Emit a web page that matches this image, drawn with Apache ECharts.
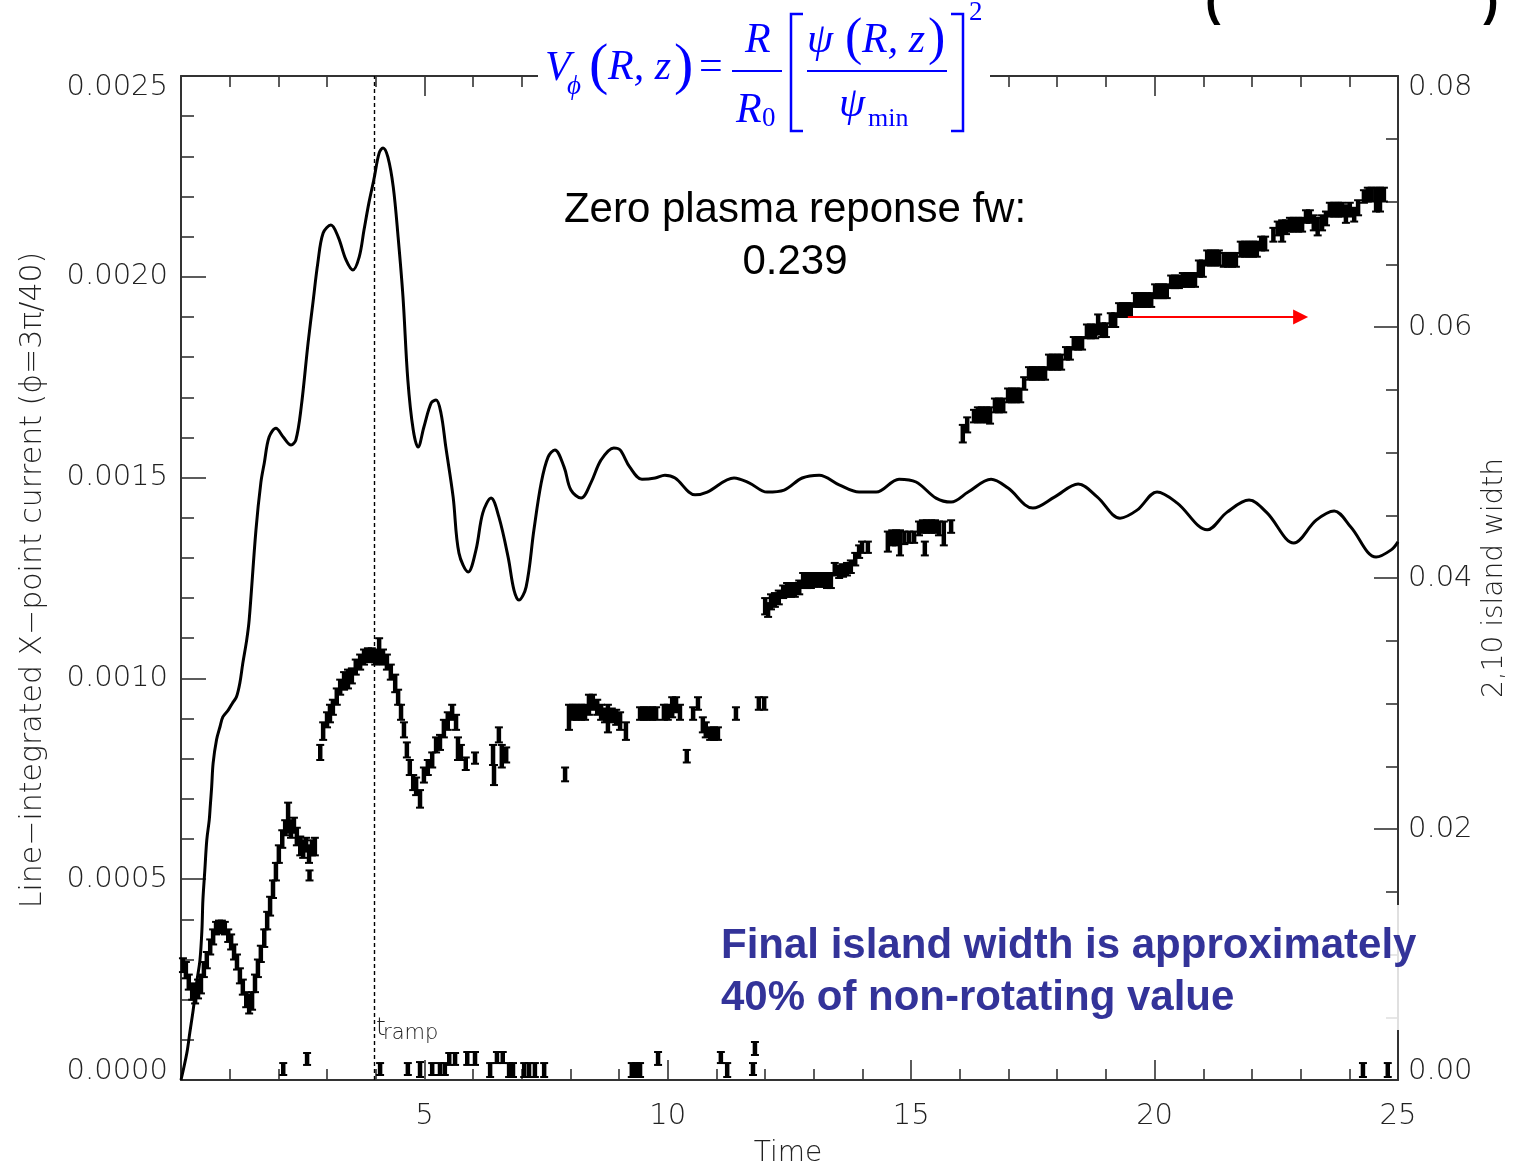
<!DOCTYPE html>
<html>
<head>
<meta charset="utf-8">
<script src="https://cdn.jsdelivr.net/npm/echarts@6/dist/echarts.min.js"></script>
<style>
  html, body { margin: 0; padding: 0; background: #fff; }
  #chart { width: 1518px; height: 1168px; }
</style>
</head>
<body>
<div id="chart"></div>
<script>
// Line-integrated X-point current versus time (left axis)
const currentT = [0.00,0.12,0.18,0.25,0.33,0.39,0.43,0.45,0.49,0.53,0.58,0.60,0.63,0.66,0.73,0.80,0.86,0.97,1.07,1.14,1.21,1.27,1.35,1.40,1.54,1.64,1.71,1.81,1.95,2.10,2.26,2.36,2.47,2.61,2.71,2.81,2.92,3.08,3.23,3.39,3.53,3.66,3.76,3.86,3.96,4.07,4.15,4.25,4.36,4.46,4.56,4.66,4.77,4.87,4.99,5.14,5.24,5.34,5.44,5.59,5.71,5.90,6.06,6.20,6.37,6.53,6.72,6.84,6.94,7.09,7.25,7.40,7.54,7.68,7.87,8.01,8.22,8.42,8.63,8.89,9.02,9.22,9.47,9.74,9.94,10.15,10.56,10.81,11.36,11.67,12.04,12.39,12.76,13.11,13.52,13.93,14.28,14.75,15.10,15.51,15.82,16.17,16.64,16.99,17.50,17.95,18.43,18.82,19.29,19.64,20.05,20.46,21.08,21.49,21.94,22.31,22.86,23.32,23.69,24.03,24.55,24.86,25.00];
const currentV = [0,0.000067,0.000117,0.000174,0.000249,0.000299,0.000374,0.000448,0.000523,0.000598,0.000647,0.000680,0.000730,0.000789,0.000847,0.000879,0.000904,0.000921,0.000941,0.000954,0.000989,0.001038,0.001096,0.001145,0.001370,0.001487,0.001536,0.001601,0.001623,0.001601,0.001581,0.001594,0.001676,0.001835,0.001935,0.002034,0.002109,0.002129,0.002099,0.002042,0.002017,0.002049,0.002117,0.002184,0.002241,0.002308,0.002321,0.002298,0.002224,0.002099,0.001950,0.001743,0.001619,0.001576,0.001626,0.001686,0.001693,0.001661,0.001576,0.001452,0.001312,0.001265,0.001320,0.001412,0.001449,0.001402,0.001302,0.001220,0.001195,0.001228,0.001370,0.001487,0.001551,0.001569,0.001526,0.001469,0.001449,0.001487,0.001544,0.001574,0.001569,0.001526,0.001496,0.001499,0.001506,0.001499,0.001457,0.001464,0.001499,0.001487,0.001464,0.001469,0.001499,0.001506,0.001482,0.001464,0.001464,0.001496,0.001489,0.001449,0.001439,0.001464,0.001496,0.001474,0.001424,0.001452,0.001484,0.001452,0.001399,0.001419,0.001464,0.001437,0.001370,0.001414,0.001444,0.001412,0.001337,0.001394,0.001417,0.001377,0.001302,0.001320,0.001340];

// 2,10 island width samples as [time, lower, upper] (right axis)
const widthEarly = [[0.04,0.0086,0.0097],[0.10,0.0081,0.0094],[0.16,0.0072,0.0084],[0.23,0.0064,0.0077],[0.29,0.0061,0.0076],[0.35,0.0065,0.0080],[0.41,0.0069,0.0084],[0.47,0.0082,0.0094],[0.53,0.0089,0.0102],[0.60,0.0100,0.0112],[0.66,0.0108,0.0120],[0.72,0.0116,0.0126],[0.78,0.0118,0.0127],[0.84,0.0117,0.0127],[0.90,0.0116,0.0126],[0.97,0.0110,0.0120],[1.03,0.0104,0.0116],[1.09,0.0096,0.0108],[1.15,0.0088,0.0100],[1.21,0.0077,0.0089],[1.27,0.0068,0.0080],[1.34,0.0058,0.0070],[1.40,0.0053,0.0068],[1.46,0.0056,0.0070],[1.52,0.0070,0.0084],[1.58,0.0082,0.0096],[1.64,0.0094,0.0107],[1.71,0.0106,0.0120],[1.77,0.0120,0.0134],[1.83,0.0131,0.0146],[1.89,0.0145,0.0159],[1.95,0.0159,0.0173],[2.01,0.0173,0.0187],[2.08,0.0185,0.0199],[2.14,0.0195,0.0207],[2.20,0.0197,0.0221],[2.26,0.0193,0.0207],[2.32,0.0197,0.0209],[2.38,0.0187,0.0201],[2.45,0.0179,0.0194],[2.51,0.0177,0.0191],[2.57,0.0182,0.0193],[2.63,0.0173,0.0187],[2.64,0.0159,0.0167],[2.69,0.0179,0.0191],[2.75,0.0179,0.0193]];
const widthRamp = [[2.86,0.0255,0.0267],[2.92,0.0271,0.0285],[3.00,0.0281,0.0293],[3.06,0.0285,0.0299],[3.12,0.0291,0.0303],[3.20,0.0299,0.0312],[3.27,0.0307,0.0319],[3.35,0.0311,0.0325],[3.43,0.0312,0.0327],[3.51,0.0316,0.0328],[3.59,0.0323,0.0335],[3.68,0.0327,0.0339],[3.76,0.0331,0.0343],[3.84,0.0333,0.0344],[3.92,0.0333,0.0344],[3.99,0.0331,0.0343],[4.07,0.0332,0.0352],[4.15,0.0331,0.0343],[4.23,0.0327,0.0339],[4.31,0.0319,0.0331],[4.40,0.0309,0.0323],[4.46,0.0299,0.0311],[4.52,0.0287,0.0299],[4.58,0.0273,0.0285],[4.64,0.0257,0.0269],[4.70,0.0243,0.0255],[4.77,0.0231,0.0243],[4.83,0.0227,0.0241],[4.91,0.0217,0.0231],[4.99,0.0237,0.0249],[5.07,0.0243,0.0255],[5.16,0.0249,0.0261],[5.24,0.0261,0.0273],[5.32,0.0263,0.0275],[5.40,0.0273,0.0287],[5.48,0.0279,0.0293],[5.57,0.0287,0.0299],[5.65,0.0279,0.0291],[5.69,0.0255,0.0273],[5.75,0.0255,0.0267],[5.85,0.0247,0.0257],[6.04,0.0252,0.0261],[6.41,0.0251,0.0267],[6.43,0.0235,0.0251],[6.53,0.0269,0.0281],[6.59,0.0249,0.0267],[6.68,0.0253,0.0265]];
const widthPlateau = [[7.89,0.0238,0.0249],[7.97,0.0279,0.0299],[8.05,0.0287,0.0299],[8.13,0.0287,0.0299],[8.22,0.0287,0.0299],[8.30,0.0287,0.0299],[8.38,0.0291,0.0307],[8.46,0.0295,0.0307],[8.55,0.0291,0.0303],[8.63,0.0287,0.0299],[8.71,0.0285,0.0296],[8.77,0.0277,0.0299],[8.85,0.0285,0.0296],[8.94,0.0283,0.0295],[9.02,0.0279,0.0293],[9.14,0.0271,0.0285],[9.43,0.0287,0.0297],[9.51,0.0287,0.0297],[9.59,0.0287,0.0297],[9.68,0.0287,0.0297],[9.76,0.0287,0.0297],[9.92,0.0287,0.0299],[10.00,0.0287,0.0299],[10.09,0.0289,0.0305],[10.17,0.0293,0.0305],[10.25,0.0287,0.0299],[10.39,0.0253,0.0263],[10.52,0.0287,0.0297],[10.62,0.0295,0.0305],[10.72,0.0277,0.0289],[10.78,0.0273,0.0285],[10.87,0.0271,0.0281],[10.95,0.0271,0.0281],[11.03,0.0271,0.0281],[11.40,0.0287,0.0297],[11.87,0.0295,0.0305],[11.98,0.0295,0.0305]];
const widthMid = [[12.00,0.0371,0.0384],[12.06,0.0369,0.0380],[12.12,0.0375,0.0387],[12.20,0.0377,0.0388],[12.28,0.0379,0.0390],[12.37,0.0384,0.0394],[12.45,0.0385,0.0396],[12.53,0.0385,0.0396],[12.61,0.0385,0.0396],[12.70,0.0387,0.0398],[12.78,0.0392,0.0404],[12.86,0.0392,0.0404],[12.94,0.0392,0.0404],[13.02,0.0393,0.0404],[13.11,0.0393,0.0404],[13.19,0.0393,0.0404],[13.27,0.0392,0.0404],[13.35,0.0392,0.0404],[13.43,0.0402,0.0412],[13.52,0.0400,0.0410],[13.60,0.0401,0.0411],[13.68,0.0402,0.0412],[13.76,0.0404,0.0414],[13.85,0.0410,0.0420],[13.93,0.0416,0.0426],[13.99,0.0420,0.0429],[14.11,0.0420,0.0429],[14.52,0.0421,0.0437],[14.61,0.0426,0.0438],[14.69,0.0426,0.0438],[14.77,0.0418,0.0438],[14.86,0.0427,0.0437],[14.96,0.0428,0.0437],[15.06,0.0428,0.0437],[15.16,0.0434,0.0445],[15.24,0.0436,0.0446],[15.28,0.0418,0.0429],[15.32,0.0436,0.0446],[15.41,0.0436,0.0446],[15.49,0.0436,0.0446],[15.57,0.0434,0.0445],[15.67,0.0426,0.0445],[15.82,0.0436,0.0446]];
const widthLate = [[16.06,0.0508,0.0522],[16.15,0.0516,0.0528],[16.29,0.0524,0.0534],[16.37,0.0524,0.0536],[16.45,0.0524,0.0536],[16.54,0.0524,0.0536],[16.62,0.0523,0.0536],[16.72,0.0532,0.0543],[16.80,0.0532,0.0543],[16.89,0.0532,0.0543],[16.99,0.0540,0.0551],[17.07,0.0540,0.0551],[17.15,0.0540,0.0551],[17.24,0.0540,0.0551],[17.32,0.0550,0.0560],[17.42,0.0558,0.0568],[17.50,0.0558,0.0568],[17.58,0.0558,0.0568],[17.67,0.0558,0.0568],[17.75,0.0558,0.0568],[17.83,0.0566,0.0578],[17.91,0.0566,0.0578],[18.00,0.0566,0.0578],[18.08,0.0566,0.0578],[18.18,0.0574,0.0584],[18.26,0.0574,0.0584],[18.34,0.0582,0.0592],[18.43,0.0582,0.0592],[18.51,0.0582,0.0592],[18.61,0.0591,0.0602],[18.69,0.0591,0.0602],[18.78,0.0591,0.0602],[18.84,0.0594,0.0610],[18.92,0.0592,0.0603],[19.00,0.0592,0.0603],[19.10,0.0600,0.0611],[19.19,0.0600,0.0611],[19.27,0.0608,0.0619],[19.35,0.0608,0.0619],[19.43,0.0608,0.0619],[19.51,0.0608,0.0619],[19.60,0.0616,0.0627],[19.68,0.0616,0.0627],[19.76,0.0616,0.0627],[19.84,0.0616,0.0627],[19.93,0.0616,0.0627],[20.01,0.0623,0.0634],[20.09,0.0623,0.0634],[20.17,0.0623,0.0634],[20.25,0.0623,0.0634],[20.34,0.0631,0.0641],[20.42,0.0631,0.0641],[20.50,0.0631,0.0641],[20.58,0.0632,0.0643],[20.67,0.0632,0.0643],[20.75,0.0632,0.0643],[20.83,0.0632,0.0643],[20.91,0.0640,0.0653],[20.99,0.0640,0.0653],[21.08,0.0649,0.0661],[21.16,0.0649,0.0661],[21.24,0.0649,0.0661],[21.32,0.0649,0.0661],[21.42,0.0648,0.0659],[21.51,0.0648,0.0659],[21.59,0.0648,0.0659],[21.67,0.0648,0.0659],[21.77,0.0656,0.0668],[21.86,0.0656,0.0668],[21.94,0.0656,0.0668],[22.02,0.0656,0.0668],[22.10,0.0656,0.0668],[22.19,0.0661,0.0672],[22.27,0.0661,0.0672],[22.44,0.0668,0.0679],[22.53,0.0673,0.0684],[22.62,0.0668,0.0685],[22.70,0.0674,0.0685],[22.78,0.0676,0.0687],[22.86,0.0676,0.0687],[22.95,0.0676,0.0687],[23.03,0.0676,0.0687],[23.11,0.0683,0.0693],[23.19,0.0683,0.0693],[23.27,0.0677,0.0689],[23.35,0.0673,0.0687],[23.44,0.0677,0.0689],[23.52,0.0681,0.0692],[23.60,0.0688,0.0699],[23.69,0.0688,0.0699],[23.77,0.0688,0.0699],[23.85,0.0688,0.0699],[23.93,0.0683,0.0697],[24.01,0.0688,0.0699],[24.10,0.0684,0.0695],[24.18,0.0689,0.0701],[24.30,0.0699,0.0709],[24.38,0.0700,0.0711],[24.46,0.0700,0.0711],[24.55,0.0692,0.0711],[24.63,0.0692,0.0711],[24.71,0.0700,0.0711]];
const widthNearZero = [[2.10,0.0004,0.00135],[2.59,0.0012,0.00215],[4.09,0.0004,0.00135],[4.66,0.0004,0.00135],[4.91,0.00024,0.00143],[5.16,0.0004,0.00135],[5.32,0.0004,0.00135],[5.42,0.0004,0.00135],[5.51,0.0012,0.00215],[5.63,0.0012,0.00215],[5.88,0.0012,0.00223],[6.04,0.0012,0.00223],[6.35,0.00024,0.00135],[6.49,0.00135,0.00223],[6.61,0.00135,0.00223],[6.74,0.00024,0.00135],[6.82,0.00024,0.00135],[7.05,0.00024,0.00135],[7.15,0.00024,0.00135],[7.27,0.00024,0.00135],[7.46,0.00024,0.00135],[9.26,0.00024,0.00135],[9.35,0.00024,0.00135],[9.43,0.00024,0.00135],[9.80,0.0012,0.00223],[11.09,0.00135,0.00223],[11.22,0.00024,0.00135],[11.75,0.0004,0.00135],[11.79,0.00199,0.00303],[24.28,0.00024,0.00135],[24.79,0.00024,0.00135]];

const rampTime = 3.98;                       // t_ramp marker
const arrowFrom = [19.45, 0.0608];           // saturation arrow (right axis units)
const arrowTo = [23.0, 0.0608];

const AXIS_FONT = 'DejaVu Sans';
const axisColor = '#333';

const chart = echarts.init(document.getElementById('chart'), null, { renderer: 'canvas' });

function leftLabel(v) {
  const s = v.toFixed(4);
  if (v >= 0.0025 - 1e-9) return '{top|' + s + '}';
  if (Math.abs(v) < 1e-12) return '{bot|' + s + '}';
  return s;
}
function rightLabel(v) {
  const s = v.toFixed(2);
  if (v >= 0.08 - 1e-9) return '{top|' + s + '}';
  if (Math.abs(v) < 1e-12) return '{bot|' + s + '}';
  return s;
}
const labelFont = { fontFamily: AXIS_FONT, fontWeight: 200, fontSize: 29, color: '#222' };

// Error-bar glyph: vertical bar with short caps
function renderWidthBar(params, api) {
  const t = api.value(0), lo = api.value(1), hi = api.value(2);
  const pLo = api.coord([t, lo]);
  const pHi = api.coord([t, hi]);
  const x = pLo[0];
  const cap = 4;
  const capStyle = { stroke: '#000', lineWidth: 2 };
  return {
    type: 'group',
    children: [
      { type: 'line', shape: { x1: x, y1: pLo[1], x2: x, y2: pHi[1] }, style: { stroke: '#000', lineWidth: 4.5 } },
      { type: 'line', shape: { x1: x - cap, y1: pHi[1], x2: x + cap, y2: pHi[1] }, style: capStyle },
      { type: 'line', shape: { x1: x - cap, y1: pLo[1], x2: x + cap, y2: pLo[1] }, style: capStyle }
    ]
  };
}

const blue = '#0000ff';
const serif = 'Liberation Serif';
function ftext(str, x, y, size, italic) {
  return {
    type: 'text', x: x, y: y, z: 102,
    style: {
      text: str, fill: blue, fontFamily: serif, fontSize: size,
      fontStyle: italic ? 'italic' : 'normal', align: 'left', verticalAlign: 'middle'
    }
  };
}

function frameAxis(extra) {
  return Object.assign({
    type: 'value',
    axisLine: { show: true, onZero: false, lineStyle: { color: axisColor, width: 2 } },
    splitLine: { show: false }
  }, extra);
}

const option = {
  animation: false,
  backgroundColor: '#fff',
  grid: { left: 181, right: 120, top: 76, bottom: 88, containLabel: false },
  xAxis: [
    frameAxis({
      position: 'bottom', min: 0, max: 25, interval: 5,
      axisTick: { show: true, inside: true, length: 20, lineStyle: { color: axisColor, width: 1.6 } },
      minorTick: { show: true, splitNumber: 5, length: 11, lineStyle: { color: axisColor, width: 1.6 } },
      axisLabel: { show: true, margin: 22, showMinLabel: false, formatter: v => String(v), ...labelFont }
    }),
    frameAxis({
      position: 'top', min: 0, max: 25, interval: 5,
      axisTick: { show: true, inside: true, length: 20, lineStyle: { color: axisColor, width: 1.6 } },
      minorTick: { show: true, splitNumber: 5, length: 11, lineStyle: { color: axisColor, width: 1.6 } },
      axisLabel: { show: false }
    })
  ],
  yAxis: [
    frameAxis({
      position: 'left', min: 0, max: 0.0025, interval: 0.0005,
      axisTick: { show: true, inside: true, length: 25, lineStyle: { color: axisColor, width: 1.6 } },
      minorTick: { show: true, splitNumber: 5, length: 13, lineStyle: { color: axisColor, width: 1.6 } },
      axisLabel: {
        margin: 13, formatter: leftLabel, ...labelFont,
        rich: {
          top: { ...labelFont, padding: [22, 0, 0, 0] },
          bot: { ...labelFont, padding: [0, 0, 18, 0] }
        }
      }
    }),
    frameAxis({
      position: 'right', min: 0, max: 0.08, interval: 0.02,
      axisTick: { show: true, inside: true, length: 24, lineStyle: { color: axisColor, width: 1.6 } },
      minorTick: { show: true, splitNumber: 4, length: 12, lineStyle: { color: axisColor, width: 1.6 } },
      axisLabel: {
        margin: 10, formatter: rightLabel, ...labelFont,
        rich: {
          top: { ...labelFont, padding: [22, 0, 0, 0] },
          bot: { ...labelFont, padding: [0, 0, 18, 0] }
        }
      }
    })
  ],
  series: [
    {
      name: 'X-point current', type: 'line', xAxisIndex: 0, yAxisIndex: 0,
      data: currentT.map((t, i) => [t, currentV[i]]),
      smooth: 0.35, showSymbol: false, symbol: 'none',
      lineStyle: { color: '#000', width: 3 },
      z: 5,
      markLine: {
        silent: true, symbol: 'none', label: { show: false },
        lineStyle: { color: '#000', type: [4, 3], width: 1.4 },
        data: [{ xAxis: rampTime }]
      }
    },
    {
      name: '2,10 island width', type: 'custom', xAxisIndex: 0, yAxisIndex: 1,
      data: [].concat(widthEarly, widthRamp, widthPlateau, widthMid, widthLate, widthNearZero),
      encode: { x: 0, y: [1, 2] },
      renderItem: renderWidthBar,
      z: 4,
      markLine: {
        silent: true, symbol: ['none', 'triangle'], symbolSize: [15, 15],
        label: { show: false },
        lineStyle: { color: '#ff0000', type: 'solid', width: 2 },
        itemStyle: { color: '#ff0000' },
        data: [[{ coord: arrowFrom }, { coord: arrowTo }]]
      }
    }
  ],
  graphic: [
    // white panel behind the velocity-profile formula
    { type: 'rect', z: 100, shape: { x: 538, y: 0, width: 452, height: 137 }, style: { fill: '#fff' } },
    // translucent panel behind the conclusion text
    { type: 'rect', z: 100, shape: { x: 712, y: 905, width: 692, height: 125 }, style: { fill: 'rgba(255,255,255,0.85)' } },

    // V_phi(R,z) = R/R0 [ psi(R,z) / psi_min ]^2
    ftext('V', 545, 69, 42, true),
    ftext('\u03d5', 567, 87, 27, true),
    ftext('(', 589, 68, 58, false),
    ftext('R, z', 608, 68, 42, true),
    ftext(')', 674, 68, 58, false),
    ftext('=', 699, 68, 42, false),
    ftext('R', 745, 41, 42, true),
    { type: 'line', z: 102, shape: { x1: 732, y1: 71, x2: 782, y2: 71 }, style: { stroke: blue, lineWidth: 2 } },
    ftext('R', 736, 111, 42, true),
    ftext('0', 762, 119, 27, false),
    { type: 'polyline', z: 102, shape: { points: [[803, 14], [791, 14], [791, 131], [803, 131]] }, style: { stroke: blue, lineWidth: 2.5, fill: null } },
    ftext('\u03c8', 807, 41, 42, true),
    ftext('(', 845, 40, 52, false),
    ftext('R, z', 862, 41, 42, true),
    ftext(')', 928, 40, 52, false),
    { type: 'line', z: 102, shape: { x1: 807, y1: 71, x2: 947, y2: 71 }, style: { stroke: blue, lineWidth: 2 } },
    ftext('\u03c8', 839, 105, 42, true),
    ftext('min', 868, 119, 26, false),
    { type: 'polyline', z: 102, shape: { points: [[951, 14], [963, 14], [963, 131], [951, 131]] }, style: { stroke: blue, lineWidth: 2.5, fill: null } },
    ftext('2', 969, 13, 27, false),

    // cut-off heading brackets along the top edge
    { type: 'text', z: 102, x: 1213, y: 2, style: { text: '(', fill: '#000', fontFamily: 'Liberation Sans', fontWeight: 'bold', fontSize: 46, align: 'center', verticalAlign: 'middle' } },
    { type: 'text', z: 102, x: 1491, y: 2, style: { text: ')', fill: '#000', fontFamily: 'Liberation Sans', fontWeight: 'bold', fontSize: 46, align: 'center', verticalAlign: 'middle' } },

    // annotation texts
    { type: 'text', z: 102, x: 795, y: 210, style: { text: 'Zero plasma reponse fw:', fill: '#000', fontFamily: 'Liberation Sans', fontSize: 42, align: 'center', verticalAlign: 'middle' } },
    { type: 'text', z: 102, x: 795, y: 262, style: { text: '0.239', fill: '#000', fontFamily: 'Liberation Sans', fontSize: 42, align: 'center', verticalAlign: 'middle' } },
    { type: 'text', z: 102, x: 721, y: 946, style: { text: 'Final island width is approximately', fill: '#333399', fontFamily: 'Liberation Sans', fontWeight: 'bold', fontSize: 42, align: 'left', verticalAlign: 'middle' } },
    { type: 'text', z: 102, x: 721, y: 998, style: { text: '40% of non-rotating value', fill: '#333399', fontFamily: 'Liberation Sans', fontWeight: 'bold', fontSize: 42, align: 'left', verticalAlign: 'middle' } },

    // t_ramp marker label
    { type: 'text', z: 102, x: 376, y: 1028, style: { text: 't', fill: '#222', fontFamily: AXIS_FONT, fontWeight: 200, fontSize: 25, align: 'left', verticalAlign: 'middle' } },
    { type: 'text', z: 102, x: 383, y: 1034, style: { text: 'ramp', fill: '#222', fontFamily: AXIS_FONT, fontWeight: 200, fontSize: 21, align: 'left', verticalAlign: 'middle' } },

    // axis titles
    { type: 'text', z: 102, x: 788, y: 1154, style: { text: 'Time', fill: '#222', fontFamily: AXIS_FONT, fontWeight: 200, fontSize: 28, align: 'center', verticalAlign: 'middle' } },
    { type: 'text', z: 102, x: 33, y: 580, rotation: Math.PI / 2, style: { text: 'Line\u2212integrated X\u2212point current (\u03d5=3\u03c0/40)', fill: '#222', fontFamily: AXIS_FONT, fontWeight: 200, fontSize: 30, align: 'center', verticalAlign: 'middle' } },
    { type: 'text', z: 102, x: 1495, y: 578, rotation: Math.PI / 2, style: { text: '2,10 island width', fill: '#222', fontFamily: AXIS_FONT, fontWeight: 200, fontSize: 28, align: 'center', verticalAlign: 'middle' } }
  ]
};

chart.setOption(option);
</script>
</body>
</html>
